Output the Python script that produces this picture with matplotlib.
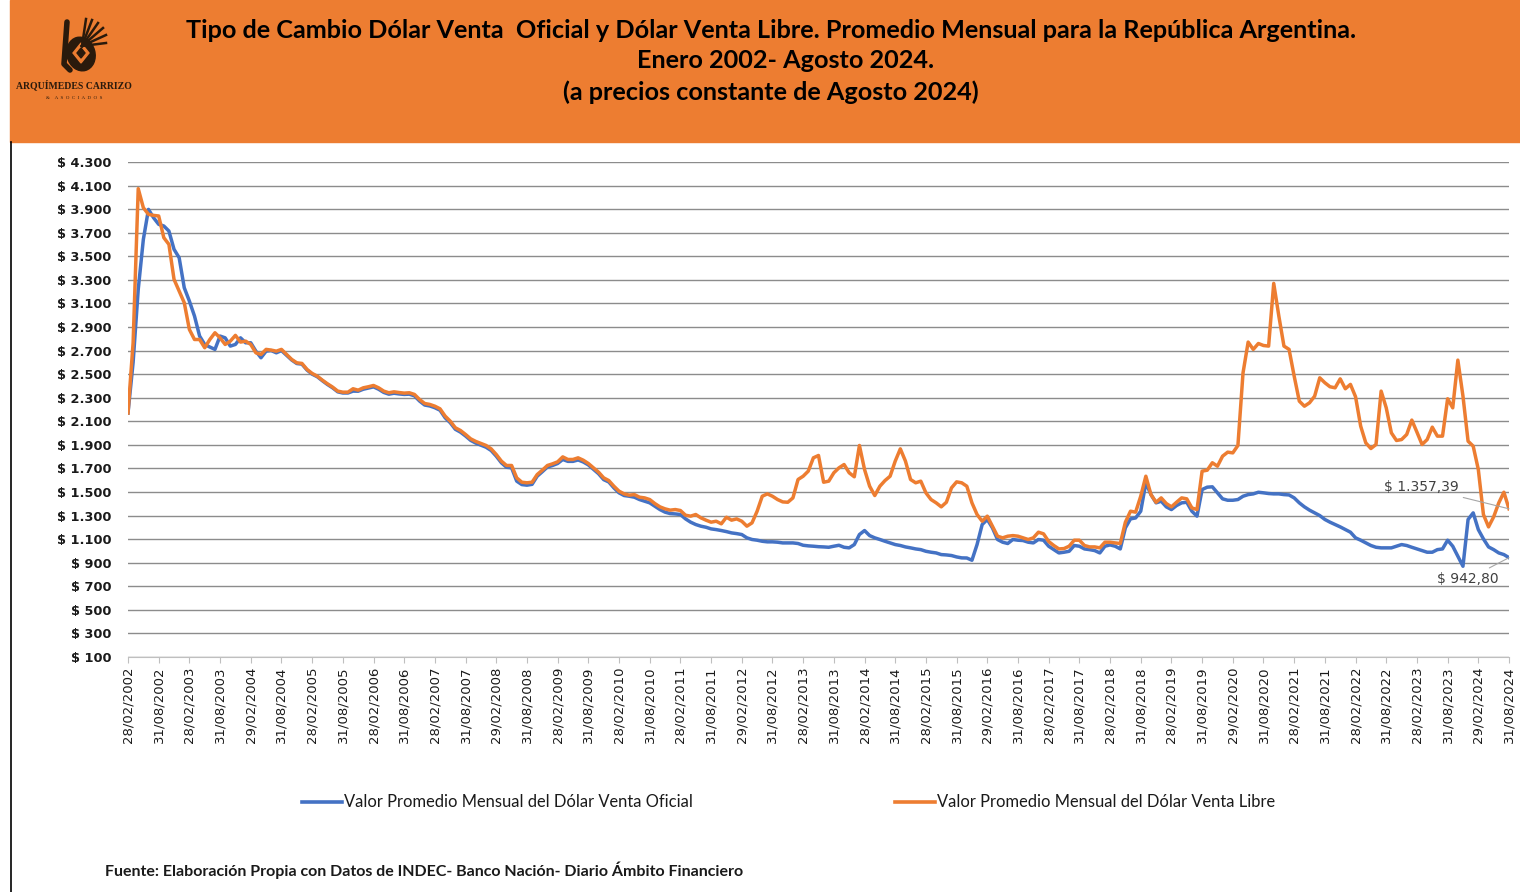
import matplotlib
matplotlib.use("Agg")
import matplotlib.pyplot as plt
from matplotlib.lines import Line2D
from matplotlib.patches import Rectangle, Ellipse, Polygon
import pandas as pd

# meses de Feb 2002 a Ago 2024 (fin de mes)
meses = pd.period_range("2002-02", "2024-08", freq="M")

# Dólar venta oficial, promedio mensual (a precios de Ago 2024)
oficial = [
    2170, 2600, 3219, 3643, 3898, 3827, 3771, 3757, 3714, 3559, 3488, 3233,
    3120, 2993, 2823, 2752, 2730, 2710, 2823, 2808, 2738, 2752, 2808, 2766,
    2766, 2695, 2639, 2695, 2700, 2681, 2700, 2660, 2620, 2590, 2585, 2535,
    2500, 2478, 2444, 2412, 2384, 2350, 2340, 2340, 2356, 2355, 2372, 2382,
    2392, 2372, 2345, 2330, 2338, 2332, 2328, 2330, 2316, 2272, 2238, 2230,
    2215, 2194, 2130, 2088, 2032, 2008, 1975, 1938, 1915, 1898, 1880, 1852,
    1804, 1748, 1710, 1705, 1592, 1563, 1558, 1565, 1634, 1672, 1712, 1725,
    1742, 1776, 1760, 1760, 1772, 1755, 1730, 1693, 1655, 1605, 1585, 1535,
    1493, 1470, 1464, 1456, 1436, 1422, 1408, 1380, 1351, 1329, 1317, 1314,
    1309, 1272, 1244, 1224, 1210, 1201, 1187, 1181, 1173, 1164, 1153, 1147,
    1139, 1111, 1097, 1091, 1082, 1077, 1077, 1074, 1068, 1068, 1068, 1063,
    1048, 1043, 1040, 1036, 1034, 1031, 1040, 1048, 1031, 1026, 1054, 1139,
    1173, 1130, 1111, 1097, 1082, 1068, 1054, 1046, 1034, 1026, 1017, 1011,
    997, 989, 983, 969, 966, 961, 949, 941, 940, 921, 1054, 1224,
    1267, 1196, 1097, 1074, 1063, 1097, 1091, 1088, 1074, 1068, 1097, 1091,
    1040, 1011, 983, 989, 997, 1046, 1040, 1017, 1011, 1003, 983, 1040,
    1051, 1040, 1017, 1196, 1272, 1280, 1337, 1578, 1478, 1408, 1422, 1374,
    1351, 1385, 1408, 1413, 1337, 1295, 1521, 1541, 1544, 1493, 1442, 1430,
    1430, 1436, 1464, 1478, 1484, 1498, 1493, 1487, 1484, 1484, 1478, 1475,
    1450, 1408, 1374, 1346, 1323, 1300, 1267, 1244, 1224, 1204, 1181, 1159,
    1111, 1091, 1068, 1046, 1031, 1026, 1026, 1026, 1040, 1054, 1046, 1031,
    1017, 1003, 989, 989, 1011, 1017, 1091, 1040, 955, 870, 1267, 1323,
    1181, 1102, 1034, 1011, 983, 969, 942.80,
]

# Dólar venta libre, promedio mensual (a precios de Ago 2024)
libre = [
    2170, 2766, 4074, 3912, 3856, 3847, 3842, 3658, 3601, 3304, 3205, 3106,
    2879, 2794, 2794, 2724, 2794, 2851, 2808, 2752, 2780, 2829, 2772, 2780,
    2752, 2681, 2667, 2710, 2704, 2695, 2710, 2667, 2625, 2596, 2591, 2540,
    2506, 2483, 2449, 2418, 2390, 2356, 2347, 2347, 2376, 2364, 2384, 2393,
    2404, 2384, 2356, 2342, 2350, 2344, 2339, 2342, 2328, 2285, 2251, 2243,
    2228, 2206, 2144, 2101, 2045, 2022, 1988, 1951, 1929, 1912, 1895, 1866,
    1818, 1762, 1725, 1725, 1620, 1583, 1578, 1583, 1648, 1685, 1725, 1739,
    1756, 1798, 1776, 1776, 1790, 1770, 1742, 1705, 1668, 1620, 1597, 1549,
    1507, 1484, 1473, 1478, 1456, 1450, 1436, 1402, 1374, 1357, 1346, 1351,
    1343, 1303, 1295, 1309, 1281, 1261, 1244, 1252, 1230, 1286, 1261, 1272,
    1252, 1210, 1238, 1337, 1464, 1484, 1464, 1436, 1416, 1413, 1450, 1606,
    1634, 1677, 1790, 1810, 1583, 1592, 1663, 1705, 1733, 1663, 1629, 1895,
    1691, 1549, 1470, 1549, 1597, 1634, 1762, 1866, 1762, 1606, 1578, 1592,
    1493, 1436, 1408, 1374, 1413, 1535, 1586, 1578, 1549, 1408, 1309, 1252,
    1295, 1210, 1125, 1111, 1125, 1130, 1125, 1111, 1097, 1111, 1159, 1145,
    1080, 1046, 1017, 1020, 1040, 1091, 1091, 1046, 1034, 1034, 1026, 1074,
    1074, 1068, 1063, 1244, 1337, 1329, 1464, 1634, 1478, 1413, 1450, 1402,
    1374, 1413, 1450, 1442, 1365, 1351, 1677, 1685, 1748, 1719, 1804, 1838,
    1832, 1895, 2511, 2772, 2710, 2760, 2743, 2738, 3270, 2993, 2738, 2710,
    2483, 2271, 2228, 2257, 2313, 2469, 2427, 2393, 2384, 2460, 2376, 2413,
    2308, 2059, 1917, 1869, 1903, 2356, 2214, 2002, 1937, 1945, 1988, 2110,
    2008, 1903, 1945, 2050, 1974, 1974, 2291, 2214, 2619, 2313, 1931, 1889,
    1691, 1309, 1204, 1289, 1408, 1498, 1357.39,
]

y_ticks = list(range(100, 4301, 200))
x_labels = [m.end_time.strftime("%d/%m/%Y") for m in meses[::6]]

AZUL = "#4472C4"
NARANJA = "#ED7D31"
W, H = 1520, 892


def fx(px):
    return px / W


def fy(py):
    return 1 - py / H


def moneda(v, dec=0):
    s = f"{v:,.{dec}f}"
    s = s.replace(",", "X").replace(".", ",").replace("X", ".")
    return "$ " + s


fig = plt.figure(figsize=(W / 100, H / 100), dpi=100)
fig.patch.set_facecolor("white")

# banda de título
fig.patches.append(Rectangle((fx(10), fy(142)), fx(W - 10), 142 / H,
                             transform=fig.transFigure, color=NARANJA, zorder=-5))
fig.add_artist(Line2D([fx(11), fx(11)], [0, fy(142)], color="black", lw=1.2))

titulo = ["Tipo de Cambio Dólar Venta  Oficial y Dólar Venta Libre. Promedio Mensual para la República Argentina.",
          "Enero 2002- Agosto 2024.",
          "(a precios constante de Agosto 2024)"]
for txt, cx, cy in zip(titulo, [771, 786, 771], [30, 60, 92]):
    fig.text(fx(cx), fy(cy), txt, ha="center", va="center", fontsize=18.2,
             fontweight="bold", family="Lato", color="black")

# logo
lax = fig.add_axes([fx(12), fy(110), fx(130), 100 / H], zorder=5)
lax.set_xlim(12, 142)
lax.set_ylim(110, 10)
lax.axis("off")
oscuro = "#2A1A0C"
for ang_x, ang_y in [(86, 19), (92, 20), (98, 23), (103, 28), (106, 35), (106, 43)]:
    lax.plot([82, ang_x], [46, ang_y], color=oscuro, lw=1.8)
lax.add_patch(Ellipse((81, 54), 28, 34, angle=-15, color=oscuro))
lax.plot([67, 64, 70], [22, 64, 70], color=oscuro, lw=4, solid_capstyle="round")
lax.add_patch(Polygon([[81, 43], [89, 53], [81, 63], [73, 53]], closed=True, color=NARANJA))
lax.add_patch(Polygon([[81, 48], [85, 53], [81, 58], [77, 53]], closed=True, color=oscuro))
lax.text(74, 85, "ARQUÍMEDES CARRIZO", ha="center", va="center", fontsize=7,
         fontweight="bold", family="Liberation Serif", color=oscuro)
lax.text(74, 98, "&    A  S  O  C  I  A  D  O  S", ha="center", va="center", fontsize=3.6,
         family="Liberation Serif", color=oscuro)

# gráfico
ax = fig.add_axes([fx(128), fy(657), fx(1381), 495 / H])
x = list(range(len(meses)))
ax.plot(x, oficial, color=AZUL, lw=2.5, solid_joinstyle="round")
ax.plot(x, libre, color=NARANJA, lw=2.5, solid_joinstyle="round")
ax.set_xlim(0, len(meses) - 1)
ax.set_ylim(100, 4300)

ax.set_yticks(y_ticks)
ax.set_yticklabels([moneda(v) for v in y_ticks], fontsize=9.3, fontweight="bold",
                   family="DejaVu Sans", color="#1a1a1a")
ax.yaxis.grid(True, color="#8C8C8C", lw=1)
ax.set_axisbelow(True)
ax.tick_params(axis="y", length=0, pad=12)

ax.set_xticks(x[::6])
ax.set_xticklabels(x_labels, rotation=90, fontsize=9.5, family="DejaVu Sans", color="#1a1a1a")
ax.tick_params(axis="x", length=4, color="#BFBFBF", pad=3)
for s in ["left", "right", "top"]:
    ax.spines[s].set_visible(False)
ax.spines["bottom"].set_color("#BFBFBF")

# etiquetas de último valor
ax.annotate(moneda(libre[-1], 2), xy=(x[-1], libre[-1]), xytext=(252.8, 1542),
            ha="center", va="center", fontsize=10, color="#404040",
            arrowprops=dict(arrowstyle="-", color="#A6A6A6", lw=0.8, shrinkA=2, shrinkB=0))
ax.annotate(moneda(oficial[-1], 2), xy=(x[-1], oficial[-1]), xytext=(262, 762),
            ha="center", va="center", fontsize=10, color="#404040",
            arrowprops=dict(arrowstyle="-", color="#A6A6A6", lw=0.8, shrinkA=2, shrinkB=0))

# leyenda
nombres = ["Valor Promedio Mensual del Dólar Venta Oficial",
           "Valor Promedio Mensual del Dólar Venta Libre"]
for color, nombre, x0 in zip([AZUL, NARANJA], nombres, [302, 895]):
    fig.add_artist(Line2D([fx(x0), fx(x0 + 40)], [fy(802), fy(802)], color=color, lw=2.6))
    fig.text(fx(x0 + 42), fy(802), nombre, ha="left", va="center", fontsize=11.9,
             family="Lato", color="#1a1a1a")

fig.text(fx(105), fy(870), "Fuente: Elaboración Propia con Datos de INDEC- Banco Nación- Diario Ámbito Financiero",
         ha="left", va="center", fontsize=11.5, family="Lato", fontweight="bold", color="#1a1a1a")

fig.savefig("out.png", dpi=100)
